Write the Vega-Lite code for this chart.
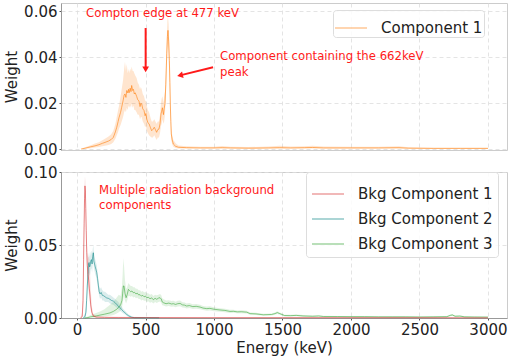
{
  "$schema": "https://vega.github.io/schema/vega-lite/v6.json",
  "padding": {"left": 4, "top": 2, "right": 5, "bottom": 2},
  "spacing": 6,
  "config": {
    "font": "DejaVu Sans",
    "view": {"stroke": "#cccccc", "strokeWidth": 1},
    "axis": {
      "labelFont": "DejaVu Sans", "labelFontSize": 15, "labelColor": "#222222",
      "titleFont": "DejaVu Sans", "titleFontSize": 15, "titleFontWeight": "normal", "titleColor": "#222222",
      "grid": true, "gridColor": "#dddddd", "gridDash": [4, 3], "gridWidth": 0.8,
      "domainColor": "#999999", "tickColor": "#555555", "tickSize": 2, "labelPadding": 2
    },
    "legend": {
      "symbolType": "stroke", "symbolSize": 1024, "symbolStrokeWidth": 1.3, "symbolOpacity": 0.5,
      "labelFont": "DejaVu Sans", "labelFontSize": 15, "labelColor": "#222222", "labelOffset": 13,
      "padding": 7, "rowPadding": -5, "strokeColor": "#dddddd", "fillColor": "rgba(255,255,255,0.85)", "cornerRadius": 3
    }
  },
  "datasets": {
    "top": [
      {"E": 30, "w": 0, "lo": 0, "hi": 0.0002},
      {"E": 60, "w": 0.0004, "lo": 0.0001, "hi": 0.0008},
      {"E": 100, "w": 0.001, "lo": 0.0004, "hi": 0.0017},
      {"E": 131, "w": 0.0014, "lo": 0.0007, "hi": 0.0024},
      {"E": 160, "w": 0.0019, "lo": 0.0009, "hi": 0.003},
      {"E": 185, "w": 0.0025, "lo": 0.0012, "hi": 0.0038},
      {"E": 204, "w": 0.0029, "lo": 0.0015, "hi": 0.0045},
      {"E": 230, "w": 0.0035, "lo": 0.0018, "hi": 0.0055},
      {"E": 250, "w": 0.0042, "lo": 0.0022, "hi": 0.0065},
      {"E": 265, "w": 0.0051, "lo": 0.003, "hi": 0.008},
      {"E": 280, "w": 0.0075, "lo": 0.0045, "hi": 0.011},
      {"E": 290, "w": 0.0095, "lo": 0.006, "hi": 0.014},
      {"E": 300, "w": 0.012, "lo": 0.0075, "hi": 0.017},
      {"E": 307, "w": 0.0138, "lo": 0.009, "hi": 0.019},
      {"E": 318, "w": 0.016, "lo": 0.0105, "hi": 0.023},
      {"E": 326, "w": 0.0182, "lo": 0.012, "hi": 0.026},
      {"E": 336, "w": 0.021, "lo": 0.014, "hi": 0.03},
      {"E": 344, "w": 0.0235, "lo": 0.016, "hi": 0.035},
      {"E": 350, "w": 0.024, "lo": 0.017, "hi": 0.038},
      {"E": 357, "w": 0.0225, "lo": 0.016, "hi": 0.034},
      {"E": 363, "w": 0.0255, "lo": 0.018, "hi": 0.037},
      {"E": 370, "w": 0.0245, "lo": 0.017, "hi": 0.033},
      {"E": 376, "w": 0.026, "lo": 0.019, "hi": 0.035},
      {"E": 380, "w": 0.0245, "lo": 0.018, "hi": 0.033},
      {"E": 388, "w": 0.0265, "lo": 0.019, "hi": 0.035},
      {"E": 394, "w": 0.025, "lo": 0.018, "hi": 0.034},
      {"E": 399, "w": 0.0277, "lo": 0.02, "hi": 0.036},
      {"E": 406, "w": 0.0255, "lo": 0.018, "hi": 0.034},
      {"E": 412, "w": 0.026, "lo": 0.019, "hi": 0.034},
      {"E": 418, "w": 0.024, "lo": 0.017, "hi": 0.033},
      {"E": 425, "w": 0.0245, "lo": 0.017, "hi": 0.032},
      {"E": 435, "w": 0.023, "lo": 0.016, "hi": 0.031},
      {"E": 443, "w": 0.0215, "lo": 0.015, "hi": 0.029},
      {"E": 452, "w": 0.021, "lo": 0.015, "hi": 0.028},
      {"E": 460, "w": 0.0185, "lo": 0.013, "hi": 0.026},
      {"E": 466, "w": 0.02, "lo": 0.014, "hi": 0.027},
      {"E": 472, "w": 0.0197, "lo": 0.014, "hi": 0.026},
      {"E": 480, "w": 0.0175, "lo": 0.012, "hi": 0.024},
      {"E": 489, "w": 0.0168, "lo": 0.011, "hi": 0.023},
      {"E": 497, "w": 0.0145, "lo": 0.0095, "hi": 0.021},
      {"E": 503, "w": 0.0155, "lo": 0.01, "hi": 0.021},
      {"E": 509, "w": 0.0131, "lo": 0.008, "hi": 0.019},
      {"E": 517, "w": 0.0115, "lo": 0.007, "hi": 0.017},
      {"E": 526, "w": 0.011, "lo": 0.006, "hi": 0.016},
      {"E": 535, "w": 0.0095, "lo": 0.0055, "hi": 0.014},
      {"E": 545, "w": 0.008, "lo": 0.005, "hi": 0.012},
      {"E": 553, "w": 0.0085, "lo": 0.005, "hi": 0.012},
      {"E": 564, "w": 0.0095, "lo": 0.006, "hi": 0.013},
      {"E": 572, "w": 0.0085, "lo": 0.005, "hi": 0.012},
      {"E": 581, "w": 0.0073, "lo": 0.004, "hi": 0.011},
      {"E": 590, "w": 0.0085, "lo": 0.005, "hi": 0.012},
      {"E": 598, "w": 0.0087, "lo": 0.005, "hi": 0.012},
      {"E": 606, "w": 0.011, "lo": 0.007, "hi": 0.015},
      {"E": 613, "w": 0.0153, "lo": 0.01, "hi": 0.02},
      {"E": 618, "w": 0.0165, "lo": 0.011, "hi": 0.022},
      {"E": 623, "w": 0.018, "lo": 0.013, "hi": 0.023},
      {"E": 631, "w": 0.015, "lo": 0.011, "hi": 0.02},
      {"E": 636, "w": 0.0175, "lo": 0.012, "hi": 0.023},
      {"E": 642, "w": 0.0197, "lo": 0.015, "hi": 0.025},
      {"E": 648, "w": 0.028, "lo": 0.022, "hi": 0.034},
      {"E": 655, "w": 0.0415, "lo": 0.035, "hi": 0.048},
      {"E": 660, "w": 0.049, "lo": 0.043, "hi": 0.056},
      {"E": 664, "w": 0.0517, "lo": 0.046, "hi": 0.058},
      {"E": 669, "w": 0.047, "lo": 0.04, "hi": 0.054},
      {"E": 674, "w": 0.0386, "lo": 0.032, "hi": 0.045},
      {"E": 678, "w": 0.029, "lo": 0.023, "hi": 0.035},
      {"E": 681, "w": 0.0197, "lo": 0.015, "hi": 0.025},
      {"E": 685, "w": 0.012, "lo": 0.008, "hi": 0.016},
      {"E": 688, "w": 0.0066, "lo": 0.004, "hi": 0.01},
      {"E": 695, "w": 0.004, "lo": 0.002, "hi": 0.006},
      {"E": 703, "w": 0.0022, "lo": 0.001, "hi": 0.004},
      {"E": 720, "w": 0.0012, "lo": 0.0005, "hi": 0.0025},
      {"E": 740, "w": 0.0008, "lo": 0.0003, "hi": 0.0016},
      {"E": 800, "w": 0.0006, "lo": 0.0002, "hi": 0.0012},
      {"E": 900, "w": 0.0005, "lo": 0.0002, "hi": 0.001},
      {"E": 1000, "w": 0.0005, "lo": 0.0002, "hi": 0.001},
      {"E": 1060, "w": 0.0006, "lo": 0.0002, "hi": 0.0013},
      {"E": 1120, "w": 0.0005, "lo": 0.0002, "hi": 0.001},
      {"E": 1250, "w": 0.0004, "lo": 0.0001, "hi": 0.0009},
      {"E": 1400, "w": 0.0005, "lo": 0.0002, "hi": 0.0011},
      {"E": 1480, "w": 0.0006, "lo": 0.0002, "hi": 0.0014},
      {"E": 1560, "w": 0.0005, "lo": 0.0002, "hi": 0.0011},
      {"E": 1660, "w": 0.0006, "lo": 0.0002, "hi": 0.0012},
      {"E": 1720, "w": 0.0007, "lo": 0.0003, "hi": 0.0015},
      {"E": 1800, "w": 0.0005, "lo": 0.0002, "hi": 0.0011},
      {"E": 2000, "w": 0.0005, "lo": 0.0002, "hi": 0.001},
      {"E": 2200, "w": 0.0005, "lo": 0.0002, "hi": 0.001},
      {"E": 2350, "w": 0.0006, "lo": 0.0002, "hi": 0.0012},
      {"E": 2420, "w": 0.0004, "lo": 0.0001, "hi": 0.0008},
      {"E": 2600, "w": 0.0003, "lo": 0.0001, "hi": 0.0006},
      {"E": 2800, "w": 0.0003, "lo": 0.0001, "hi": 0.0006},
      {"E": 3000, "w": 0.0003, "lo": 0.0001, "hi": 0.0006}
    ],
    "bottom": [
      {"comp": "Bkg Component 3", "E": 55, "w": 0, "lo": 0, "hi": 0.0003},
      {"comp": "Bkg Component 3", "E": 80, "w": 0.0003, "lo": 0, "hi": 0.001},
      {"comp": "Bkg Component 3", "E": 100, "w": 0.0008, "lo": 0.0002, "hi": 0.002},
      {"comp": "Bkg Component 3", "E": 130, "w": 0.0012, "lo": 0.0004, "hi": 0.003},
      {"comp": "Bkg Component 3", "E": 168, "w": 0.002, "lo": 0.0008, "hi": 0.0045},
      {"comp": "Bkg Component 3", "E": 200, "w": 0.0026, "lo": 0.001, "hi": 0.006},
      {"comp": "Bkg Component 3", "E": 241, "w": 0.0035, "lo": 0.0015, "hi": 0.009},
      {"comp": "Bkg Component 3", "E": 265, "w": 0.0045, "lo": 0.002, "hi": 0.011},
      {"comp": "Bkg Component 3", "E": 290, "w": 0.006, "lo": 0.003, "hi": 0.014},
      {"comp": "Bkg Component 3", "E": 305, "w": 0.0075, "lo": 0.004, "hi": 0.016},
      {"comp": "Bkg Component 3", "E": 318, "w": 0.009, "lo": 0.005, "hi": 0.015},
      {"comp": "Bkg Component 3", "E": 328, "w": 0.012, "lo": 0.007, "hi": 0.022},
      {"comp": "Bkg Component 3", "E": 333, "w": 0.0165, "lo": 0.01, "hi": 0.03},
      {"comp": "Bkg Component 3", "E": 338, "w": 0.0219, "lo": 0.013, "hi": 0.041},
      {"comp": "Bkg Component 3", "E": 343, "w": 0.022, "lo": 0.015, "hi": 0.036},
      {"comp": "Bkg Component 3", "E": 350, "w": 0.017, "lo": 0.012, "hi": 0.026},
      {"comp": "Bkg Component 3", "E": 358, "w": 0.0139, "lo": 0.01, "hi": 0.02},
      {"comp": "Bkg Component 3", "E": 366, "w": 0.016, "lo": 0.012, "hi": 0.021},
      {"comp": "Bkg Component 3", "E": 375, "w": 0.0196, "lo": 0.015, "hi": 0.024},
      {"comp": "Bkg Component 3", "E": 383, "w": 0.0188, "lo": 0.015, "hi": 0.023},
      {"comp": "Bkg Component 3", "E": 392, "w": 0.018, "lo": 0.0145, "hi": 0.022},
      {"comp": "Bkg Component 3", "E": 401, "w": 0.0185, "lo": 0.015, "hi": 0.022},
      {"comp": "Bkg Component 3", "E": 411, "w": 0.0173, "lo": 0.014, "hi": 0.021},
      {"comp": "Bkg Component 3", "E": 420, "w": 0.0176, "lo": 0.0145, "hi": 0.021},
      {"comp": "Bkg Component 3", "E": 430, "w": 0.0165, "lo": 0.0135, "hi": 0.02},
      {"comp": "Bkg Component 3", "E": 440, "w": 0.017, "lo": 0.014, "hi": 0.02},
      {"comp": "Bkg Component 3", "E": 450, "w": 0.0158, "lo": 0.013, "hi": 0.019},
      {"comp": "Bkg Component 3", "E": 460, "w": 0.016, "lo": 0.013, "hi": 0.019},
      {"comp": "Bkg Component 3", "E": 470, "w": 0.015, "lo": 0.012, "hi": 0.018},
      {"comp": "Bkg Component 3", "E": 480, "w": 0.0155, "lo": 0.0125, "hi": 0.0185},
      {"comp": "Bkg Component 3", "E": 490, "w": 0.0145, "lo": 0.0118, "hi": 0.0175},
      {"comp": "Bkg Component 3", "E": 500, "w": 0.015, "lo": 0.012, "hi": 0.018},
      {"comp": "Bkg Component 3", "E": 509, "w": 0.0139, "lo": 0.011, "hi": 0.017},
      {"comp": "Bkg Component 3", "E": 520, "w": 0.0142, "lo": 0.0115, "hi": 0.017},
      {"comp": "Bkg Component 3", "E": 533, "w": 0.0132, "lo": 0.0105, "hi": 0.016},
      {"comp": "Bkg Component 3", "E": 545, "w": 0.0138, "lo": 0.011, "hi": 0.0165},
      {"comp": "Bkg Component 3", "E": 557, "w": 0.0125, "lo": 0.01, "hi": 0.015},
      {"comp": "Bkg Component 3", "E": 570, "w": 0.0135, "lo": 0.011, "hi": 0.016},
      {"comp": "Bkg Component 3", "E": 582, "w": 0.0128, "lo": 0.0103, "hi": 0.0155},
      {"comp": "Bkg Component 3", "E": 594, "w": 0.0136, "lo": 0.011, "hi": 0.016},
      {"comp": "Bkg Component 3", "E": 606, "w": 0.0139, "lo": 0.0113, "hi": 0.0165},
      {"comp": "Bkg Component 3", "E": 615, "w": 0.013, "lo": 0.0105, "hi": 0.0155},
      {"comp": "Bkg Component 3", "E": 622, "w": 0.011, "lo": 0.0088, "hi": 0.0135},
      {"comp": "Bkg Component 3", "E": 630, "w": 0.0105, "lo": 0.0085, "hi": 0.013},
      {"comp": "Bkg Component 3", "E": 650, "w": 0.0098, "lo": 0.0078, "hi": 0.012},
      {"comp": "Bkg Component 3", "E": 670, "w": 0.0102, "lo": 0.0082, "hi": 0.0122},
      {"comp": "Bkg Component 3", "E": 690, "w": 0.0096, "lo": 0.0077, "hi": 0.0116},
      {"comp": "Bkg Component 3", "E": 703, "w": 0.0098, "lo": 0.0078, "hi": 0.0118},
      {"comp": "Bkg Component 3", "E": 720, "w": 0.0093, "lo": 0.0074, "hi": 0.0112},
      {"comp": "Bkg Component 3", "E": 735, "w": 0.0098, "lo": 0.0078, "hi": 0.0118},
      {"comp": "Bkg Component 3", "E": 752, "w": 0.01, "lo": 0.008, "hi": 0.012},
      {"comp": "Bkg Component 3", "E": 770, "w": 0.009, "lo": 0.0072, "hi": 0.0108},
      {"comp": "Bkg Component 3", "E": 785, "w": 0.0088, "lo": 0.007, "hi": 0.0106},
      {"comp": "Bkg Component 3", "E": 800, "w": 0.0082, "lo": 0.0065, "hi": 0.01},
      {"comp": "Bkg Component 3", "E": 820, "w": 0.0085, "lo": 0.0068, "hi": 0.0102},
      {"comp": "Bkg Component 3", "E": 845, "w": 0.0078, "lo": 0.0062, "hi": 0.0095},
      {"comp": "Bkg Component 3", "E": 870, "w": 0.008, "lo": 0.0064, "hi": 0.0096},
      {"comp": "Bkg Component 3", "E": 898, "w": 0.0075, "lo": 0.006, "hi": 0.009},
      {"comp": "Bkg Component 3", "E": 920, "w": 0.0068, "lo": 0.0054, "hi": 0.0082},
      {"comp": "Bkg Component 3", "E": 947, "w": 0.0064, "lo": 0.005, "hi": 0.0078},
      {"comp": "Bkg Component 3", "E": 970, "w": 0.0066, "lo": 0.0052, "hi": 0.008},
      {"comp": "Bkg Component 3", "E": 1000, "w": 0.006, "lo": 0.0047, "hi": 0.0073},
      {"comp": "Bkg Component 3", "E": 1044, "w": 0.0055, "lo": 0.0043, "hi": 0.0067},
      {"comp": "Bkg Component 3", "E": 1080, "w": 0.0052, "lo": 0.004, "hi": 0.0064},
      {"comp": "Bkg Component 3", "E": 1117, "w": 0.0045, "lo": 0.0035, "hi": 0.0056},
      {"comp": "Bkg Component 3", "E": 1141, "w": 0.0046, "lo": 0.0036, "hi": 0.0056},
      {"comp": "Bkg Component 3", "E": 1170, "w": 0.0042, "lo": 0.0032, "hi": 0.0052},
      {"comp": "Bkg Component 3", "E": 1200, "w": 0.0043, "lo": 0.0033, "hi": 0.0053},
      {"comp": "Bkg Component 3", "E": 1239, "w": 0.004, "lo": 0.0031, "hi": 0.0049},
      {"comp": "Bkg Component 3", "E": 1263, "w": 0.003, "lo": 0.0022, "hi": 0.0038},
      {"comp": "Bkg Component 3", "E": 1307, "w": 0.0028, "lo": 0.002, "hi": 0.0036},
      {"comp": "Bkg Component 3", "E": 1360, "w": 0.0022, "lo": 0.0015, "hi": 0.0029},
      {"comp": "Bkg Component 3", "E": 1420, "w": 0.0024, "lo": 0.0017, "hi": 0.0031},
      {"comp": "Bkg Component 3", "E": 1445, "w": 0.003, "lo": 0.0022, "hi": 0.0038},
      {"comp": "Bkg Component 3", "E": 1462, "w": 0.0037, "lo": 0.0028, "hi": 0.0046},
      {"comp": "Bkg Component 3", "E": 1480, "w": 0.003, "lo": 0.0022, "hi": 0.0038},
      {"comp": "Bkg Component 3", "E": 1515, "w": 0.0017, "lo": 0.0011, "hi": 0.0023},
      {"comp": "Bkg Component 3", "E": 1560, "w": 0.0016, "lo": 0.001, "hi": 0.0022},
      {"comp": "Bkg Component 3", "E": 1600, "w": 0.0018, "lo": 0.0012, "hi": 0.0024},
      {"comp": "Bkg Component 3", "E": 1650, "w": 0.0014, "lo": 0.0009, "hi": 0.002},
      {"comp": "Bkg Component 3", "E": 1720, "w": 0.0012, "lo": 0.0007, "hi": 0.0017},
      {"comp": "Bkg Component 3", "E": 1765, "w": 0.0014, "lo": 0.0009, "hi": 0.0019},
      {"comp": "Bkg Component 3", "E": 1800, "w": 0.001, "lo": 0.0006, "hi": 0.0015},
      {"comp": "Bkg Component 3", "E": 1900, "w": 0.001, "lo": 0.0006, "hi": 0.0014},
      {"comp": "Bkg Component 3", "E": 2000, "w": 0.0009, "lo": 0.0005, "hi": 0.0013},
      {"comp": "Bkg Component 3", "E": 2100, "w": 0.0009, "lo": 0.0005, "hi": 0.0013},
      {"comp": "Bkg Component 3", "E": 2200, "w": 0.0008, "lo": 0.0005, "hi": 0.0012},
      {"comp": "Bkg Component 3", "E": 2300, "w": 0.0008, "lo": 0.0004, "hi": 0.0012},
      {"comp": "Bkg Component 3", "E": 2400, "w": 0.0008, "lo": 0.0004, "hi": 0.0012},
      {"comp": "Bkg Component 3", "E": 2500, "w": 0.0007, "lo": 0.0004, "hi": 0.0011},
      {"comp": "Bkg Component 3", "E": 2600, "w": 0.0008, "lo": 0.0004, "hi": 0.0012},
      {"comp": "Bkg Component 3", "E": 2700, "w": 0.0009, "lo": 0.0005, "hi": 0.0013},
      {"comp": "Bkg Component 3", "E": 2725, "w": 0.0018, "lo": 0.0012, "hi": 0.0024},
      {"comp": "Bkg Component 3", "E": 2740, "w": 0.0021, "lo": 0.0014, "hi": 0.0028},
      {"comp": "Bkg Component 3", "E": 2760, "w": 0.0012, "lo": 0.0007, "hi": 0.0017},
      {"comp": "Bkg Component 3", "E": 2795, "w": 0.0013, "lo": 0.0008, "hi": 0.0018},
      {"comp": "Bkg Component 3", "E": 2830, "w": 0.0008, "lo": 0.0004, "hi": 0.0012},
      {"comp": "Bkg Component 3", "E": 2900, "w": 0.0007, "lo": 0.0004, "hi": 0.0011},
      {"comp": "Bkg Component 3", "E": 3000, "w": 0.0006, "lo": 0.0003, "hi": 0.001},
      {"comp": "Bkg Component 2", "E": 45, "w": 0, "lo": 0, "hi": 0.0005},
      {"comp": "Bkg Component 2", "E": 58, "w": 0.001, "lo": 0, "hi": 0.003},
      {"comp": "Bkg Component 2", "E": 65, "w": 0.004, "lo": 0.001, "hi": 0.008},
      {"comp": "Bkg Component 2", "E": 70, "w": 0.012, "lo": 0.006, "hi": 0.018},
      {"comp": "Bkg Component 2", "E": 75, "w": 0.022, "lo": 0.015, "hi": 0.03},
      {"comp": "Bkg Component 2", "E": 80, "w": 0.03, "lo": 0.023, "hi": 0.037},
      {"comp": "Bkg Component 2", "E": 84, "w": 0.037, "lo": 0.03, "hi": 0.043},
      {"comp": "Bkg Component 2", "E": 88, "w": 0.038, "lo": 0.031, "hi": 0.045},
      {"comp": "Bkg Component 2", "E": 92, "w": 0.035, "lo": 0.029, "hi": 0.042},
      {"comp": "Bkg Component 2", "E": 96, "w": 0.036, "lo": 0.03, "hi": 0.043},
      {"comp": "Bkg Component 2", "E": 100, "w": 0.039, "lo": 0.033, "hi": 0.045},
      {"comp": "Bkg Component 2", "E": 105, "w": 0.04, "lo": 0.034, "hi": 0.046},
      {"comp": "Bkg Component 2", "E": 110, "w": 0.037, "lo": 0.031, "hi": 0.043},
      {"comp": "Bkg Component 2", "E": 114, "w": 0.042, "lo": 0.036, "hi": 0.047},
      {"comp": "Bkg Component 2", "E": 119, "w": 0.0447, "lo": 0.039, "hi": 0.05},
      {"comp": "Bkg Component 2", "E": 123, "w": 0.039, "lo": 0.034, "hi": 0.045},
      {"comp": "Bkg Component 2", "E": 128, "w": 0.037, "lo": 0.032, "hi": 0.042},
      {"comp": "Bkg Component 2", "E": 133, "w": 0.035, "lo": 0.03, "hi": 0.04},
      {"comp": "Bkg Component 2", "E": 139, "w": 0.033, "lo": 0.028, "hi": 0.038},
      {"comp": "Bkg Component 2", "E": 144, "w": 0.031, "lo": 0.026, "hi": 0.036},
      {"comp": "Bkg Component 2", "E": 150, "w": 0.027, "lo": 0.023, "hi": 0.031},
      {"comp": "Bkg Component 2", "E": 156, "w": 0.022, "lo": 0.018, "hi": 0.026},
      {"comp": "Bkg Component 2", "E": 162, "w": 0.018, "lo": 0.015, "hi": 0.022},
      {"comp": "Bkg Component 2", "E": 168, "w": 0.0165, "lo": 0.013, "hi": 0.02},
      {"comp": "Bkg Component 2", "E": 176, "w": 0.0175, "lo": 0.014, "hi": 0.021},
      {"comp": "Bkg Component 2", "E": 185, "w": 0.0155, "lo": 0.012, "hi": 0.019},
      {"comp": "Bkg Component 2", "E": 195, "w": 0.0152, "lo": 0.012, "hi": 0.018},
      {"comp": "Bkg Component 2", "E": 205, "w": 0.0145, "lo": 0.011, "hi": 0.018},
      {"comp": "Bkg Component 2", "E": 217, "w": 0.0137, "lo": 0.011, "hi": 0.017},
      {"comp": "Bkg Component 2", "E": 228, "w": 0.0135, "lo": 0.011, "hi": 0.016},
      {"comp": "Bkg Component 2", "E": 240, "w": 0.0128, "lo": 0.01, "hi": 0.016},
      {"comp": "Bkg Component 2", "E": 252, "w": 0.012, "lo": 0.0095, "hi": 0.015},
      {"comp": "Bkg Component 2", "E": 265, "w": 0.0116, "lo": 0.009, "hi": 0.014},
      {"comp": "Bkg Component 2", "E": 278, "w": 0.0105, "lo": 0.008, "hi": 0.013},
      {"comp": "Bkg Component 2", "E": 290, "w": 0.0092, "lo": 0.007, "hi": 0.012},
      {"comp": "Bkg Component 2", "E": 302, "w": 0.0082, "lo": 0.006, "hi": 0.011},
      {"comp": "Bkg Component 2", "E": 314, "w": 0.007, "lo": 0.005, "hi": 0.009},
      {"comp": "Bkg Component 2", "E": 326, "w": 0.0058, "lo": 0.004, "hi": 0.0078},
      {"comp": "Bkg Component 2", "E": 338, "w": 0.0045, "lo": 0.003, "hi": 0.0062},
      {"comp": "Bkg Component 2", "E": 350, "w": 0.0036, "lo": 0.0024, "hi": 0.005},
      {"comp": "Bkg Component 2", "E": 362, "w": 0.0025, "lo": 0.0015, "hi": 0.0037},
      {"comp": "Bkg Component 2", "E": 375, "w": 0.0016, "lo": 0.0008, "hi": 0.0026},
      {"comp": "Bkg Component 2", "E": 387, "w": 0.001, "lo": 0.0004, "hi": 0.0018},
      {"comp": "Bkg Component 2", "E": 400, "w": 0.0005, "lo": 0.0001, "hi": 0.001},
      {"comp": "Bkg Component 2", "E": 420, "w": 0.0002, "lo": 0, "hi": 0.0006},
      {"comp": "Bkg Component 2", "E": 600, "w": 0.0001, "lo": 0, "hi": 0.0003},
      {"comp": "Bkg Component 1", "E": 25, "w": 0, "lo": 0, "hi": 0.0005},
      {"comp": "Bkg Component 1", "E": 38, "w": 0.001, "lo": 0, "hi": 0.004},
      {"comp": "Bkg Component 1", "E": 44, "w": 0.012, "lo": 0.005, "hi": 0.025},
      {"comp": "Bkg Component 1", "E": 48, "w": 0.04, "lo": 0.03, "hi": 0.055},
      {"comp": "Bkg Component 1", "E": 52, "w": 0.065, "lo": 0.055, "hi": 0.078},
      {"comp": "Bkg Component 1", "E": 55, "w": 0.082, "lo": 0.074, "hi": 0.092},
      {"comp": "Bkg Component 1", "E": 58, "w": 0.0905, "lo": 0.083, "hi": 0.097},
      {"comp": "Bkg Component 1", "E": 61, "w": 0.087, "lo": 0.08, "hi": 0.094},
      {"comp": "Bkg Component 1", "E": 64, "w": 0.075, "lo": 0.066, "hi": 0.083},
      {"comp": "Bkg Component 1", "E": 67, "w": 0.06, "lo": 0.05, "hi": 0.07},
      {"comp": "Bkg Component 1", "E": 71, "w": 0.045, "lo": 0.036, "hi": 0.055},
      {"comp": "Bkg Component 1", "E": 75, "w": 0.036, "lo": 0.028, "hi": 0.045},
      {"comp": "Bkg Component 1", "E": 80, "w": 0.03, "lo": 0.022, "hi": 0.042},
      {"comp": "Bkg Component 1", "E": 85, "w": 0.026, "lo": 0.018, "hi": 0.042},
      {"comp": "Bkg Component 1", "E": 90, "w": 0.02, "lo": 0.013, "hi": 0.04},
      {"comp": "Bkg Component 1", "E": 95, "w": 0.015, "lo": 0.009, "hi": 0.032},
      {"comp": "Bkg Component 1", "E": 100, "w": 0.009, "lo": 0.005, "hi": 0.02},
      {"comp": "Bkg Component 1", "E": 108, "w": 0.004, "lo": 0.002, "hi": 0.008},
      {"comp": "Bkg Component 1", "E": 118, "w": 0.0015, "lo": 0.0005, "hi": 0.003},
      {"comp": "Bkg Component 1", "E": 140, "w": 0.0006, "lo": 0.0001, "hi": 0.0012},
      {"comp": "Bkg Component 1", "E": 200, "w": 0.0004, "lo": 0.0001, "hi": 0.001},
      {"comp": "Bkg Component 1", "E": 300, "w": 0.0003, "lo": 0, "hi": 0.0008},
      {"comp": "Bkg Component 1", "E": 500, "w": 0.0003, "lo": 0, "hi": 0.0007},
      {"comp": "Bkg Component 1", "E": 1000, "w": 0.0002, "lo": 0, "hi": 0.0006},
      {"comp": "Bkg Component 1", "E": 1500, "w": 0.0002, "lo": 0, "hi": 0.0006},
      {"comp": "Bkg Component 1", "E": 2000, "w": 0.0002, "lo": 0, "hi": 0.0005},
      {"comp": "Bkg Component 1", "E": 2500, "w": 0.0002, "lo": 0, "hi": 0.0005},
      {"comp": "Bkg Component 1", "E": 3000, "w": 0.0001, "lo": 0, "hi": 0.0004}
    ],
    "topNotes": [
      {"E": 66, "w": 0.0593, "t": "Compton edge at 477 keV"},
      {"E": 1044, "w": 0.0404, "t": "Component containing the 662keV"},
      {"E": 1044, "w": 0.0336, "t": "peak"}
    ],
    "arrowV": [{"E": 501, "w": 0.0527, "E2": 501, "w2": 0.0347}],
    "arrowD": [{"E": 993, "w": 0.0356, "E2": 752, "w2": 0.0321}],
    "bottomNotes": [
      {"E": 161, "w": 0.0875, "t": "Multiple radiation background"},
      {"E": 161, "w": 0.0772, "t": "components"}
    ]
  },
  "resolve": {"scale": {"color": "independent"}, "legend": {"color": "independent"}},
  "vconcat": [
    {
      "width": 446,
      "height": 147,
      "layer": [
        {
          "data": {"name": "top"},
          "mark": {"type": "area", "color": "#ff7f0e", "opacity": 0.2},
          "encoding": {
            "x": {"field": "E", "type": "quantitative", "scale": {"domain": [-117, 3139], "nice": false, "zero": false},
                  "axis": {"labels": false, "ticks": false, "domain": false, "title": null, "labelPadding": 0, "values": [0, 500, 1000, 1500, 2000, 2500, 3000]}},
            "y": {"field": "lo", "type": "quantitative", "scale": {"domain": [-0.0004, 0.0636], "nice": false, "zero": false},
                  "axis": {"title": "Weight", "values": [0, 0.02, 0.04, 0.06], "format": ".2f"}},
            "y2": {"field": "hi"}
          }
        },
        {
          "data": {"name": "top"},
          "mark": {"type": "line", "strokeWidth": 1, "opacity": 0.6},
          "encoding": {
            "x": {"field": "E", "type": "quantitative"},
            "y": {"field": "w", "type": "quantitative"},
            "color": {"datum": "Component 1", "type": "nominal", "scale": {"range": ["#ff7f0e"]},
                      "legend": {"title": null, "orient": "none", "legendX": 272, "legendY": 7, "padding": 1}}
          }
        },
        {
          "data": {"name": "topNotes"},
          "mark": {"type": "text", "align": "left", "baseline": "middle", "color": "#ff1a1a", "fontSize": 11.7},
          "encoding": {
            "x": {"field": "E", "type": "quantitative"},
            "y": {"field": "w", "type": "quantitative"},
            "text": {"field": "t"}
          }
        },
        {
          "data": {"name": "arrowV"},
          "mark": {"type": "rule", "color": "#ff1a1a", "strokeWidth": 2},
          "encoding": {
            "x": {"field": "E", "type": "quantitative"},
            "y": {"field": "w", "type": "quantitative"},
            "x2": {"field": "E2"},
            "y2": {"field": "w2"}
          }
        },
        {
          "data": {"name": "arrowD"},
          "mark": {"type": "rule", "color": "#ff1a1a", "strokeWidth": 2},
          "encoding": {
            "x": {"field": "E", "type": "quantitative"},
            "y": {"field": "w", "type": "quantitative"},
            "x2": {"field": "E2"},
            "y2": {"field": "w2"}
          }
        },
        {
          "data": {"name": "arrowV"},
          "mark": {"type": "point", "shape": "triangle-down", "filled": true, "color": "#ff1a1a", "opacity": 1, "size": 45},
          "encoding": {
            "x": {"field": "E2", "type": "quantitative"},
            "y": {"field": "w2", "type": "quantitative"}
          }
        },
        {
          "data": {"name": "arrowD"},
          "mark": {"type": "point", "shape": "triangle-left", "angle": -14, "filled": true, "color": "#ff1a1a", "opacity": 1, "size": 45},
          "encoding": {
            "x": {"field": "E2", "type": "quantitative"},
            "y": {"field": "w2", "type": "quantitative"}
          }
        }
      ]
    },
    {
      "width": 446,
      "height": 146,
      "layer": [
        {
          "data": {"name": "bottom"},
          "mark": {"type": "area", "opacity": 0.14},
          "encoding": {
            "x": {"field": "E", "type": "quantitative", "scale": {"domain": [-117, 3139], "nice": false, "zero": false},
                  "axis": {"title": "Energy (keV)", "format": "d", "titlePadding": 3, "values": [0, 500, 1000, 1500, 2000, 2500, 3000]}},
            "y": {"field": "lo", "type": "quantitative", "scale": {"domain": [0, 0.1], "nice": false},
                  "axis": {"title": "Weight", "values": [0, 0.05, 0.1], "format": ".2f"}},
            "y2": {"field": "hi"},
            "color": {"field": "comp", "type": "nominal",
                      "scale": {"domain": ["Bkg Component 1", "Bkg Component 2", "Bkg Component 3"], "range": ["#d62728", "#008080", "#2ca02c"]},
                      "legend": {"title": null, "orient": "none", "legendX": 245, "legendY": 0, "padding": 5}}
          }
        },
        {
          "data": {"name": "bottom"},
          "mark": {"type": "line", "strokeWidth": 0.9, "opacity": 0.6},
          "encoding": {
            "x": {"field": "E", "type": "quantitative"},
            "y": {"field": "w", "type": "quantitative"},
            "color": {"field": "comp", "type": "nominal"}
          }
        },
        {
          "data": {"name": "bottomNotes"},
          "mark": {"type": "text", "align": "left", "baseline": "middle", "color": "#ff1a1a", "fontSize": 11.7},
          "encoding": {
            "x": {"field": "E", "type": "quantitative"},
            "y": {"field": "w", "type": "quantitative"},
            "text": {"field": "t"}
          }
        }
      ]
    }
  ]
}
